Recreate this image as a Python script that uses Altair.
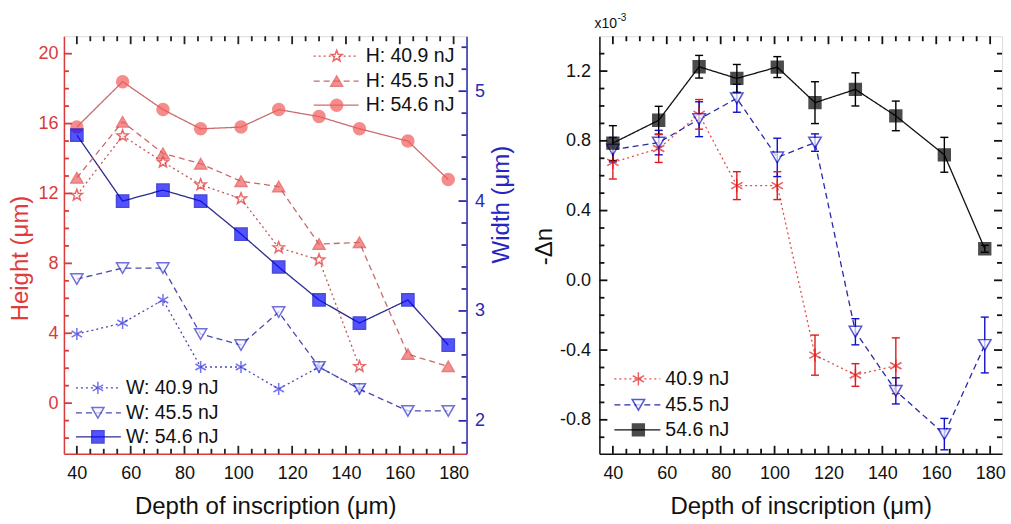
import math
import altair as alt
import pandas as pd

FONT = "Liberation Sans"

# ---------------- data ----------------
depth = [40, 57, 72, 86, 101, 115, 130, 145, 163, 178]

series_hw = ["H: 40.9 nJ", "H: 45.5 nJ", "H: 54.6 nJ",
             "W: 40.9 nJ", "W: 45.5 nJ", "W: 54.6 nJ"]
height_409 = [11.9, 15.3, 13.8, 12.5, 11.7, 8.9, 8.2, 2.1]
height_455 = [12.9, 16.1, 14.3, 13.7, 12.7, 12.4, 9.1, 9.2, 2.8, 2.1]
height_546 = [15.8, 18.4, 16.8, 15.7, 15.8, 16.8, 16.4, 15.7, 15.0, 12.8]
width_409 = [2.79, 2.89, 3.10, 2.49, 2.49, 2.29, 2.49, 2.29]
width_455 = [3.29, 3.39, 3.39, 2.79, 2.69, 2.99, 2.49, 2.29, 2.09, 2.09]
width_546 = [4.60, 4.00, 4.10, 4.00, 3.70, 3.40, 3.10, 2.89, 3.10, 2.69]

series_dn = ["40.9 nJ", "45.5 nJ", "54.6 nJ"]
dn_409 = [0.676, 0.756, 0.952, 0.543, 0.543, -0.429, -0.543, -0.490]
dn_409_err = [0.095, 0.080, 0.085, 0.080, 0.080, 0.115, 0.065, 0.160]
dn_455 = [0.749, 0.790, 0.924, 1.044, 0.705, 0.790, -0.295, -0.634, -0.882, -0.371]
dn_455_err = [0.070, 0.070, 0.100, 0.080, 0.110, 0.050, 0.075, 0.075, 0.090, 0.160]
dn_546 = [0.787, 0.918, 1.225, 1.158, 1.223, 1.019, 1.095, 0.943, 0.720, 0.181]
dn_546_err = [0.100, 0.080, 0.065, 0.080, 0.060, 0.120, 0.095, 0.085, 0.100, 0.020]

x_ticks = [40, 60, 80, 100, 120, 140, 160, 180]
height_ticks = [0, 4, 8, 12, 16, 20]
width_ticks = [2, 3, 4, 5]
dn_ticks = [-0.8, -0.4, 0.0, 0.4, 0.8, 1.2]

# ---------------- styles ----------------
PW, PH = 403, 418
XL = [35.2, 184.8]
HD = [-2.9, 21.0]
WD = [1.7, 5.5]
XR = [35.0, 184.4]
DR = [-0.995, 1.4]

RED_AX = "#d93a3a"
BLUE_AX = "#2b2bb0"
BLACK = "#111111"
MAJ, MIN, TW = 8, 5, 1.8


def star_path(n=5, r_out=1.0, r_in=0.42):
    pts = []
    for i in range(2 * n):
        r = r_out if i % 2 == 0 else r_in
        a = -math.pi / 2 + i * math.pi / n
        pts.append(f"{r * math.cos(a):.3f},{r * math.sin(a):.3f}")
    return "M" + "L".join(pts) + "Z"


ASTER = "M0,-1L0,1M-0.866,-0.5L0.866,0.5M-0.866,0.5L0.866,-0.5"
STAR = star_path()

hw_line_colors = ["#c05a5a", "#c86a6a", "#cc6b6b", "#4a4ab0", "#4a4ab0", "#2c2c90"]
hw_dashes = [[2, 3], [6, 4], [1, 0], [2, 3], [6, 4], [1, 0]]
hw_shapes = [STAR, "triangle-up", "circle", ASTER, "triangle-down", "square"]
hw_fills = ["#ffffff", "#f06262", "#f25c5c", "transparent", "#f4f4ff", "#0a0aff"]
hw_strokes = ["#e02a2a", "#e04848", "#f25c5c", "#3a3ae6", "#3434c8", "#0000c8"]
hw_sizes = [140, 150, 115, 150, 140, 100]

dn_line_colors = ["#e0504c", "#2a2aa6", "#111111"]
dn_dashes = [[2, 3], [6, 4], [1, 0]]
dn_shapes = [ASTER, "triangle-down", "square"]
dn_fills = ["transparent", "#ffffff", "#000000"]
dn_strokes = ["#e31a1c", "#1010c8", "#000000"]
dn_sizes = [170, 140, 70]


def sc(dom):
    return alt.Scale(domain=dom, nice=False, zero=False)


def enc_set(domain, colors, dashes, shapes, fills, strokes, sizes):
    return dict(
        color=alt.Color("series:N", scale=alt.Scale(domain=domain, range=colors), legend=None),
        strokeDash=alt.StrokeDash("series:N", scale=alt.Scale(domain=domain, range=dashes), legend=None),
        shape=alt.Shape("series:N", scale=alt.Scale(domain=domain, range=shapes), legend=None),
        fill=alt.Fill("series:N", scale=alt.Scale(domain=domain, range=fills), legend=None),
        stroke=alt.Stroke("series:N", scale=alt.Scale(domain=domain, range=strokes), legend=None),
        size=alt.Size("series:N", scale=alt.Scale(domain=domain, range=sizes), legend=None),
    )


def main_axis(orient, values, dom_color, lab_color, title, title_color, pad, tpad, **kw):
    args = dict(orient=orient, values=values, ticks=False, tickSize=0, domain=True,
                domainColor=dom_color, domainWidth=1.5, labels=True, labelColor=lab_color,
                labelFont=FONT, labelFontSize=18, labelPadding=pad, labelFlush=False,
                labelOverlap=False, title=title, titleColor=title_color, titleFont=FONT,
                titleFontSize=24, titleFontWeight="normal", titlePadding=tpad, grid=False)
    args.update(kw)
    return alt.Axis(**args)


def guide(xdom, ydom, xaxis, yaxis):
    d = pd.DataFrame({"gx": [xdom[0]], "gy": [ydom[0]]})
    return alt.Chart(d).mark_point(opacity=0).encode(
        x=alt.X("gx:Q", scale=sc(xdom), axis=xaxis),
        y=alt.Y("gy:Q", scale=sc(ydom), axis=yaxis),
    )


def tick_marks(dom, values, side, size, color, width=TW):
    """Inward frame ticks: position along the axis from the scale, length in pixels."""
    n = len(values)
    if side in ("bottom", "top"):
        p0, p1 = (PH, PH - size) if side == "bottom" else (0, size)
        d = pd.DataFrame({"tv": values, "p0": [p0] * n, "p1": [p1] * n})
        return alt.Chart(d).mark_rule(strokeWidth=width, color=color).encode(
            x=alt.X("tv:Q", scale=sc(dom), axis=None),
            y=alt.Y("p0:Q", scale=None, axis=None), y2="p1:Q")
    p0, p1 = (0, size) if side == "left" else (PW, PW - size)
    d = pd.DataFrame({"tv": values, "p0": [p0] * n, "p1": [p1] * n})
    return alt.Chart(d).mark_rule(strokeWidth=width, color=color).encode(
        y=alt.Y("tv:Q", scale=sc(dom), axis=None),
        x=alt.X("p0:Q", scale=None, axis=None), x2="p1:Q")


def frame_ticks(xdom, xmaj, xmin, xcol, ldom, lmaj, lmin, lcol, rdom, rmaj, rmin, rcol):
    out = []
    for side in ("bottom", "top"):
        out.append(tick_marks(xdom, xmaj, side, MAJ, xcol))
        out.append(tick_marks(xdom, xmin, side, MIN, xcol))
    out.append(tick_marks(ldom, lmaj, "left", MAJ, lcol))
    out.append(tick_marks(ldom, lmin, "left", MIN, lcol))
    out.append(tick_marks(rdom, rmaj, "right", MAJ, rcol))
    out.append(tick_marks(rdom, rmin, "right", MIN, rcol))
    return out


x_minor = [v for v in range(40, 185, 5) if v not in x_ticks]
height_minor = [v for v in range(-2, 21) if v not in height_ticks]
width_minor = [round(1.8 + 0.2 * i, 1) for i in range(19)]
width_minor = [v for v in width_minor if abs(v - round(v)) > 1e-6]
dn_minor = [round(-0.9 + 0.1 * i, 1) for i in range(23)]
dn_minor = [v for v in dn_minor if all(abs(v - t) > 1e-6 for t in dn_ticks)]


def long_df(names, arrays, col="val"):
    rows = []
    for name, vals in zip(names, arrays):
        for d, v in zip(depth, vals):
            rows.append({"series": name, "depth": d, col: v})
    return pd.DataFrame(rows)


def legend_df(names, ys, lx1, lx2, mx, tx):
    return pd.DataFrame({"series": names, "ly": ys, "lx1": [lx1] * len(names),
                         "lx2": [lx2] * len(names), "mx": [mx] * len(names),
                         "tx": [tx] * len(names)})


def legend_layers(df, e):
    rule = alt.Chart(df).mark_rule(strokeWidth=1.3).encode(
        x=alt.X("lx1:Q", scale=None, axis=None), x2="lx2:Q",
        y=alt.Y("ly:Q", scale=None, axis=None),
        color=e["color"], strokeDash=e["strokeDash"])
    pts = alt.Chart(df).mark_point(filled=True, strokeWidth=1.5).encode(
        x=alt.X("mx:Q", scale=None, axis=None), y=alt.Y("ly:Q", scale=None, axis=None),
        shape=e["shape"], fill=e["fill"], stroke=e["stroke"], size=e["size"])
    txt = alt.Chart(df).mark_text(align="left", baseline="middle", fontSize=19.5,
                                  font=FONT, color=BLACK).encode(
        x=alt.X("tx:Q", scale=None, axis=None), y=alt.Y("ly:Q", scale=None, axis=None),
        text="series:N")
    return [rule, pts, txt]


def data_layers(df, xdom, ydom, e):
    ln = alt.Chart(df).mark_line(strokeWidth=1.3).encode(
        x=alt.X("depth:Q", scale=sc(xdom), axis=None),
        y=alt.Y("val:Q", scale=sc(ydom), axis=None),
        color=e["color"], strokeDash=e["strokeDash"])
    pt = alt.Chart(df).mark_point(filled=True, strokeWidth=1.5).encode(
        x=alt.X("depth:Q", scale=sc(xdom), axis=None),
        y=alt.Y("val:Q", scale=sc(ydom), axis=None),
        shape=e["shape"], fill=e["fill"], stroke=e["stroke"], size=e["size"])
    return ln, pt


# ---------------- left panel ----------------
eL = enc_set(series_hw, hw_line_colors, hw_dashes, hw_shapes, hw_fills, hw_strokes, hw_sizes)
h_df = long_df(series_hw[:3], [height_409, height_455, height_546])
w_df = long_df(series_hw[3:], [width_409, width_455, width_546])

hl, hp = data_layers(h_df, XL, HD, eL)
wl, wp = data_layers(w_df, XL, WD, eL)

left_guides = [
    guide(XL, HD,
          main_axis("bottom", x_ticks, RED_AX, BLACK, "Depth of inscription (μm)", BLACK, 11, 12),
          main_axis("left", height_ticks, RED_AX, RED_AX, "Height (μm)", "#e03c3c", 6, 5, titleY=222)),
    guide(XL, WD, None,
          main_axis("right", width_ticks, BLUE_AX, BLUE_AX, "Width (μm)", "#2525c0", 8, 5,
                    titleY=168, titleAngle=270, titleBaseline="top")),
]
left_ticks = frame_ticks(XL, x_ticks, x_minor, "#222222",
                         HD, height_ticks, height_minor, RED_AX,
                         WD, width_ticks, width_minor, BLUE_AX)

leg_h = legend_df(series_hw[:3], [20, 45, 69], 250, 295, 273, 302)
leg_w = legend_df(series_hw[3:], [352, 377, 401], 12, 57, 34, 62)

left = alt.layer(
    wl, hl, hp, wp, *left_guides, *left_ticks,
    *legend_layers(leg_h, eL), *legend_layers(leg_w, eL)
).resolve_scale(x="independent", y="independent").resolve_axis(
    x="independent", y="independent").properties(width=PW, height=PH)

# ---------------- right panel ----------------
eR = enc_set(series_dn, dn_line_colors, dn_dashes, dn_shapes, dn_fills, dn_strokes, dn_sizes)
rows = []
for name, vals, errs in zip(series_dn, [dn_409, dn_455, dn_546], [dn_409_err, dn_455_err, dn_546_err]):
    for d, v, er in zip(depth, vals, errs):
        rows.append({"series": name, "depth": d, "val": v, "lo": v - er, "hi": v + er})
dn_df = pd.DataFrame(rows)
cap_df = pd.concat([
    dn_df[["series", "depth"]].assign(cap=dn_df["lo"]),
    dn_df[["series", "depth"]].assign(cap=dn_df["hi"]),
], ignore_index=True)

err_rule = alt.Chart(dn_df).mark_rule(strokeWidth=1.4).encode(
    x=alt.X("depth:Q", scale=sc(XR), axis=None),
    y=alt.Y("lo:Q", scale=sc(DR), axis=None), y2="hi:Q",
    stroke=eR["stroke"])
err_cap = alt.Chart(cap_df).mark_rule(strokeWidth=1.4, xOffset=-4, x2Offset=4).encode(
    x=alt.X("depth:Q", scale=sc(XR), axis=None), x2="depth:Q",
    y=alt.Y("cap:Q", scale=sc(DR), axis=None),
    stroke=eR["stroke"])
rl, rp = data_layers(dn_df, XR, DR, eR)

right_guides = [
    guide(XR, DR,
          main_axis("bottom", x_ticks, BLACK, BLACK, "Depth of inscription (μm)", BLACK, 11, 12),
          main_axis("left", dn_ticks, BLACK, BLACK, "-Δn", BLACK, 9, 3, titleY=210,
                    labelExpr="replace(format(datum.value, '.1f'), '\u2212', '-')")),
]
right_ticks = frame_ticks(XR, x_ticks, x_minor, BLACK,
                          DR, dn_ticks, dn_minor, BLACK,
                          DR, dn_ticks, dn_minor, BLACK)

leg_r = legend_df(series_dn, [343, 369, 394], 15, 61, 39, 66)

exp_base = alt.Chart(pd.DataFrame({"t": ["x10"]})).mark_text(
    align="left", baseline="alphabetic", fontSize=14, font=FONT, color=BLACK).encode(
    x=alt.value(-5), y=alt.value(-8), text="t:N")
exp_sup = alt.Chart(pd.DataFrame({"t": ["-3"]})).mark_text(
    align="left", baseline="alphabetic", fontSize=10, font=FONT, color=BLACK).encode(
    x=alt.value(18), y=alt.value(-15), text="t:N")

right = alt.layer(
    rl, err_rule, err_cap, rp, *right_guides, *right_ticks,
    *legend_layers(leg_r, eR), exp_base, exp_sup
).resolve_scale(x="independent", y="independent").resolve_axis(
    x="independent", y="independent").properties(width=PW, height=PH)

chart = alt.hconcat(left, right, spacing=133, bounds="flush").resolve_scale(
    color="independent", strokeDash="independent", shape="independent",
    fill="independent", stroke="independent", size="independent"
).properties(
    padding={"left": 8, "top": 12, "right": 5, "bottom": 2}
).configure_view(stroke=BLACK, strokeWidth=1.5).configure(font=FONT)

chart.save("out.html", embed_options={"renderer": "svg", "actions": False})
